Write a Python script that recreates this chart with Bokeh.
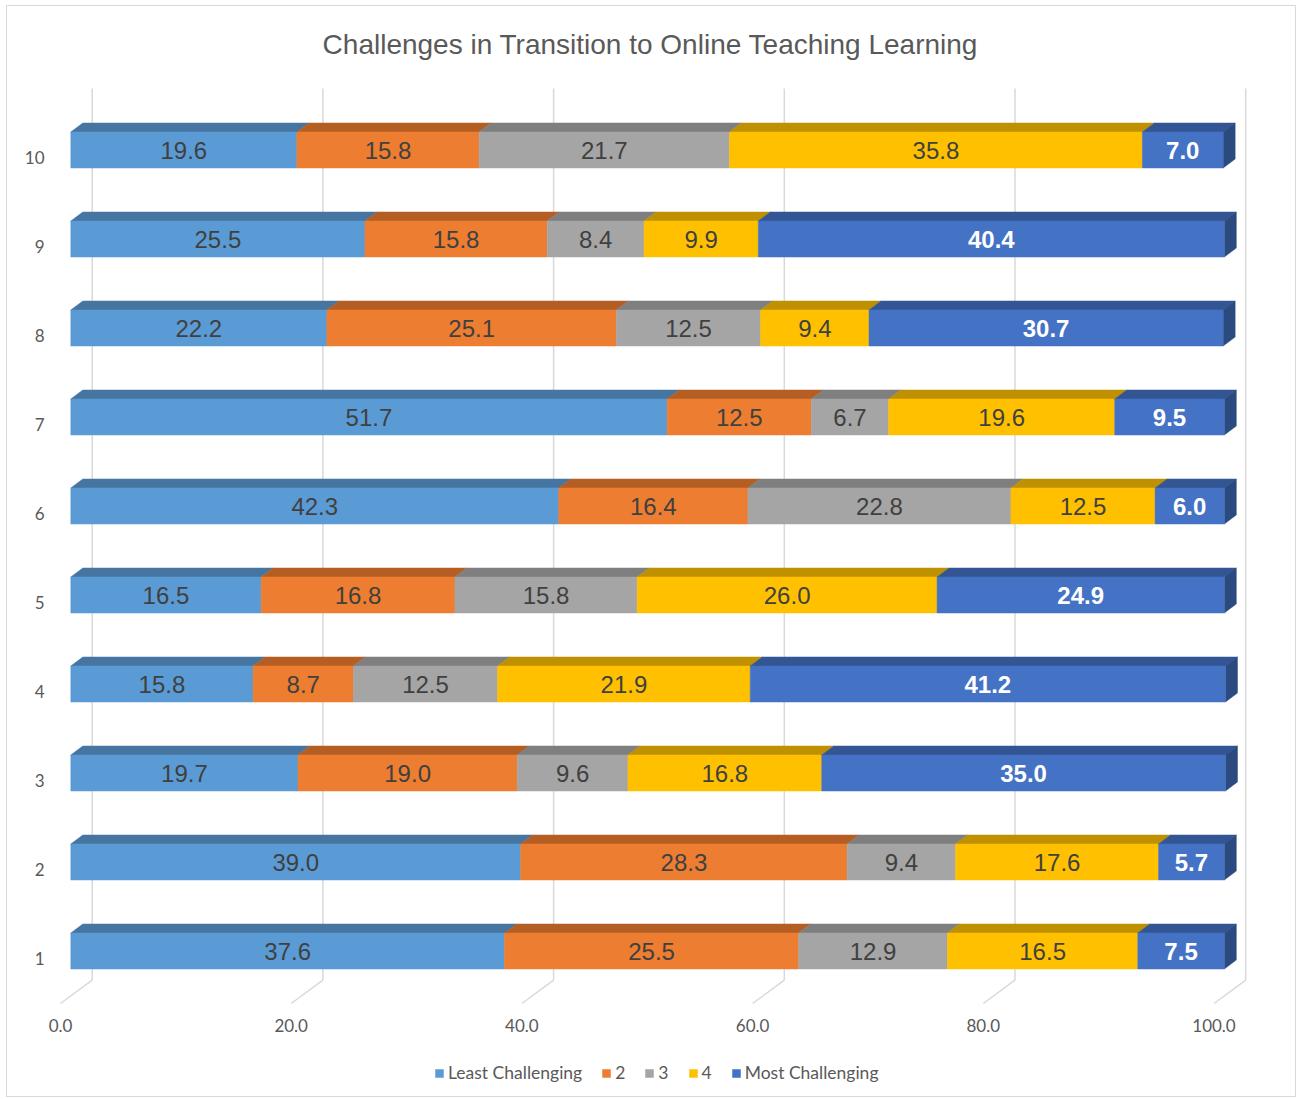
import numpy as np
from bokeh.plotting import figure
from bokeh.models import (ColumnDataSource, FixedTicker, NumeralTickFormatter,
                          Legend, LegendItem)
from bokeh.core.properties import value
from bokeh.embed import file_html
from bokeh.resources import INLINE

# ---------------- data ----------------
categories = [1, 2, 3, 4, 5, 6, 7, 8, 9, 10]
category_labels = ["1", "2", "3", "4", "5", "6", "7", "8", "9", "10"]
series_names = ["Least Challenging", "2", "3", "4", "Most Challenging"]
least_challenging = [37.6, 39.0, 19.7, 15.8, 16.5, 42.3, 51.7, 22.2, 25.5, 19.6]
level_2 = [25.5, 28.3, 19.0, 8.7, 16.8, 16.4, 12.5, 25.1, 15.8, 15.8]
level_3 = [12.9, 9.4, 9.6, 12.5, 15.8, 22.8, 6.7, 12.5, 8.4, 21.7]
level_4 = [16.5, 17.6, 16.8, 21.9, 26.0, 12.5, 19.6, 9.4, 9.9, 35.8]
most_challenging = [7.5, 5.7, 35.0, 41.2, 24.9, 6.0, 9.5, 30.7, 40.4, 7.0]
x_ticks = [0, 20, 40, 60, 80, 100]

series_values = [least_challenging, level_2, level_3, level_4, most_challenging]

# ---------------- styling ----------------
front_colors = ["#5B9BD5", "#ED7D31", "#A5A5A5", "#FFC000", "#4472C4"]
top_colors = ["#4575A0", "#B55E23", "#7F7F7F", "#BF9000", "#335594"]
side_color = "#2B4A7F"
label_colors = ["#404040", "#404040", "#404040", "#404040", "#FFFFFF"]
label_styles = ["normal", "normal", "normal", "normal", "bold"]

# canvas placement on the page (margin + 1px border)
OX, OY = 7, 6
W, H = 1290, 1092
# frame edges in page pixels
F_L, F_R, F_T = 46, 1254, 80
MB_B = 4
F_B = OY + H - MB_B
MB_L = F_L - OX
MB_R = W - (F_R - OX)
MB_T = F_T - OY

SX = 11.535   # px per value unit
SY = 89.0     # px per category
X0_PX = 60.0  # page x of value 0 on the floor front edge
Y1_PX = 958.0  # page y of category 1 on the floor front edge

x_start = (F_L - X0_PX) / SX
x_end = (F_R - X0_PX) / SX
y_end = 1 + (Y1_PX - F_T) / SY
y_start = 1 + (Y1_PX - F_B) / SY

# 3D projection offsets (px -> data units)
bar_dx, bar_dy = 10.3 / SX, 7.5 / SY        # floor front -> bar front
depth_dx, depth_dy = 12.0 / SX, 9.0 / SY    # bar depth
wall_dx = 31.7 / SX                         # floor front -> back wall
half_h = 18.0 / SY
floor_front_y = 1 - 45.0 / SY
floor_back_y = floor_front_y + 23.3 / SY
grid_top_y = 1 + 870.0 / SY

p = figure(width=W, height=H, output_backend="svg", toolbar_location=None,
           x_range=(x_start, x_end), y_range=(y_start, y_end),
           min_border_left=MB_L, min_border_right=MB_R,
           min_border_top=MB_T, min_border_bottom=MB_B)
p.styles = {"border": "1px solid #D9D9D9", "margin-left": "6px", "margin-top": "5px"}
p.outline_line_color = None
p.xgrid.visible = False
p.ygrid.visible = False

p.title.text = "Challenges in Transition to Online Teaching Learning"
p.title.align = "center"
p.title.vertical_align = "top"
p.title.text_font = "Liberation Sans"
p.title.text_font_size = "28px"
p.title.text_font_style = "normal"
p.title.text_color = "#595959"
p.title.standoff = 38

# back wall gridlines and floor diagonals
ticks = np.array(x_ticks, dtype=float)
p.segment(x0=ticks + wall_dx, y0=floor_back_y, x1=ticks + wall_dx, y1=grid_top_y,
          line_color="#D9D9D9", line_width=1.5)
p.segment(x0=ticks, y0=floor_front_y, x1=ticks + wall_dx, y1=floor_back_y,
          line_color="#D9D9D9", line_width=1.5)

cats = np.array(categories, dtype=float)
cum = np.zeros(len(categories))
legend_items = []
for i, (name, vals) in enumerate(zip(series_names, series_values)):
    v = np.array(vals, dtype=float)
    left = cum + bar_dx
    right = cum + v + bar_dx
    bottom = cats + bar_dy - half_h
    top = cats + bar_dy + half_h
    xs = [[l, r, r + depth_dx, l + depth_dx] for l, r in zip(left, right)]
    ys = [[t, t, t + depth_dy, t + depth_dy] for t in top]
    p.patches(xs=xs, ys=ys, fill_color=top_colors[i], line_color=top_colors[i],
              line_width=0.5)
    if i == len(series_names) - 1:
        sxs = [[r, r + depth_dx, r + depth_dx, r] for r in right]
        sys_ = [[b, b + depth_dy, t + depth_dy, t] for b, t in zip(bottom, top)]
        p.patches(xs=sxs, ys=sys_, fill_color=side_color, line_color=side_color,
                  line_width=0.5)
    src = ColumnDataSource(dict(left=left, right=right, bottom=bottom, top=top))
    r = p.quad(left="left", right="right", bottom="bottom", top="top", source=src,
               fill_color=front_colors[i], line_color=front_colors[i], line_width=0.5)
    legend_items.append(LegendItem(label=name, renderers=[r]))
    cum = cum + v

# data labels on top
cum = np.zeros(len(categories))
for i, vals in enumerate(series_values):
    v = np.array(vals, dtype=float)
    src = ColumnDataSource(dict(x=cum + v / 2 + bar_dx, y=cats + bar_dy,
                                t=["%.1f" % x for x in v]))
    p.text(x="x", y="y", text="t", source=src, text_align="center",
           text_baseline="middle", text_font=value("Liberation Sans"),
           text_font_size="24px", text_color=label_colors[i],
           text_font_style=label_styles[i])
    cum = cum + v

# axes
p.xaxis.ticker = FixedTicker(ticks=x_ticks)
p.xaxis.formatter = NumeralTickFormatter(format="0.0")
p.xaxis.fixed_location = floor_front_y
p.yaxis.ticker = FixedTicker(ticks=categories)
p.yaxis.major_label_overrides = {c: l for c, l in zip(categories, category_labels)}
for ax in (p.xaxis[0], p.yaxis[0]):
    ax.axis_line_color = None
    ax.major_tick_line_color = None
    ax.minor_tick_line_color = None
    ax.major_tick_out = 0
    ax.major_tick_in = 0
    ax.major_label_text_font = "Lato"
    ax.major_label_text_font_size = "17px"
    ax.major_label_text_color = "#595959"
p.xaxis.major_label_standoff = 15
p.yaxis.major_label_standoff = 2

legend = Legend(items=legend_items, orientation="horizontal",
                location=(388, 11),
                label_text_font="Lato", label_text_font_size="17.5px",
                label_text_color="#595959", glyph_width=10, glyph_height=10,
                label_standoff=4, label_width=0, spacing=19, padding=4, margin=0,
                border_line_color=None, background_fill_alpha=0)
p.add_layout(legend)

open("out.html", "w").write(file_html(p, INLINE))
